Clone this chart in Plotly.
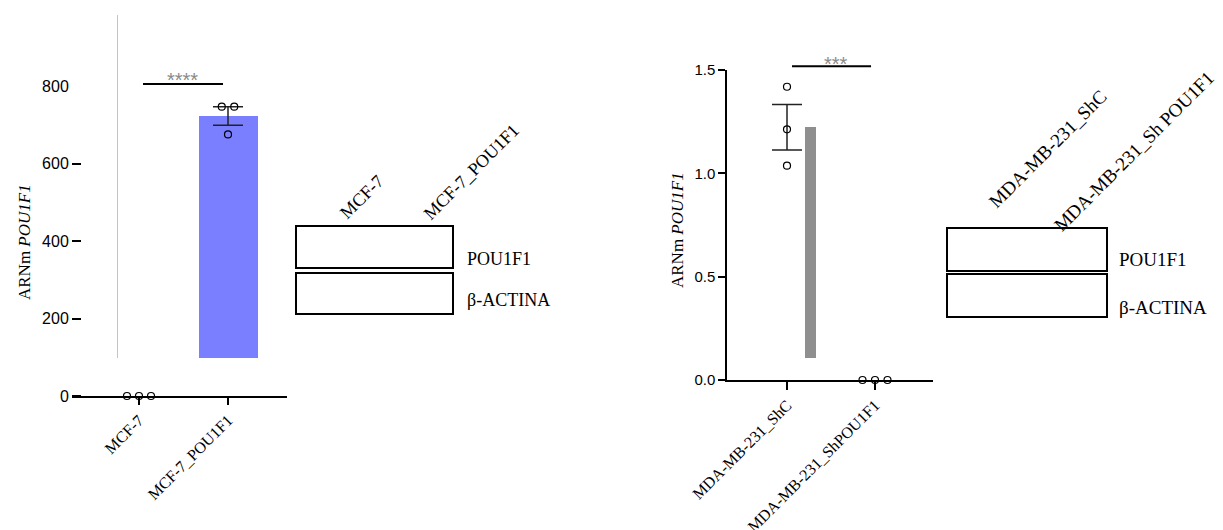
import numpy as np
import plotly.graph_objects as go

W, H = 1223, 530

# ---- MCF-7 panel (qPCR, ARNm POU1F1) ----
mcf_groups = ["MCF-7", "MCF-7_POU1F1"]
mcf_values = [[0.0, 0.0, 0.0], [746.6, 746.6, 675.0]]
mcf_bar_base = 98.0
mcf_yticks = [0, 200, 400, 600, 800]
mcf_signif = "****"

# ---- MDA-MB-231 panel ----
mda_groups = ["MDA-MB-231_ShC", "MDA-MB-231_ShPOU1F1"]
mda_values = [[1.419, 1.213, 1.037], [0.0, 0.0, 0.0]]
mda_bar_base = 0.105
mda_yticks = [0.0, 0.5, 1.0, 1.5]
mda_signif = "***"

# ---- western blot frames ----
blot_rows = ["POU1F1", "β-ACTINA"]
mcf_blot_lanes = ["MCF-7", "MCF-7_POU1F1"]
mda_blot_lanes = ["MDA-MB-231_ShC", "MDA-MB-231_Sh POU1F1"]

SANS = "Liberation Sans, Arial, sans-serif"
SERIF = "Liberation Serif, Times New Roman, serif"


def px(x):
    return x / W


def py(y):
    return 1 - y / H


def mean_sem(vals):
    a = np.asarray(vals, dtype=float)
    return a.mean(), a.std(ddof=1) / np.sqrt(len(a))


fig = go.Figure()

# ---------------- left panel ----------------
mcf_stats = [mean_sem(v) for v in mcf_values]
mcf_jitter = [[-0.135, 0.0, 0.135], [-0.07, 0.07, 0.0]]

for i, (m, s) in enumerate(mcf_stats):
    if m > mcf_bar_base:
        fig.add_trace(go.Bar(x=[i], y=[m - mcf_bar_base], base=[mcf_bar_base],
                             width=0.663, marker=dict(color="#7a7fff", line=dict(width=0)),
                             xaxis="x", yaxis="y", showlegend=False, hoverinfo="skip"))
for i, (m, s) in enumerate(mcf_stats):
    if s > 0:
        fig.add_trace(go.Scatter(x=[i], y=[m], mode="markers", marker=dict(size=1, opacity=0),
                                 error_y=dict(type="data", array=[s], width=15, thickness=1.5, color="#222"),
                                 xaxis="x", yaxis="y", showlegend=False, hoverinfo="skip"))
for i, vals in enumerate(mcf_values):
    fig.add_trace(go.Scatter(x=[i + d for d in mcf_jitter[i]], y=vals, mode="markers",
                             marker=dict(symbol="circle-open", size=7, color="black", line=dict(width=1.2)),
                             cliponaxis=False, xaxis="x", yaxis="y", showlegend=False, hoverinfo="skip"))
# carrier for the label-only 800 axis
fig.add_trace(go.Scatter(x=[0], y=[0], mode="markers", marker=dict(opacity=0),
                         xaxis="x", yaxis="y3", showlegend=False, hoverinfo="skip"))

# ---------------- right panel ----------------
mda_stats = [mean_sem(v) for v in mda_values]
mda_jitter = [[0.0, 0.0, 0.0], [-0.142, 0.0, 0.142]]
mda_bar_shift = 0.267

for i, (m, s) in enumerate(mda_stats):
    if m > mda_bar_base:
        fig.add_trace(go.Bar(x=[i + mda_bar_shift], y=[m - mda_bar_base], base=[mda_bar_base],
                             width=0.125, marker=dict(color="#8f8f8f", line=dict(width=0)),
                             xaxis="x2", yaxis="y2", showlegend=False, hoverinfo="skip"))
for i, (m, s) in enumerate(mda_stats):
    if s > 0:
        fig.add_trace(go.Scatter(x=[i], y=[m], mode="markers", marker=dict(size=1, opacity=0),
                                 error_y=dict(type="data", array=[s], width=15, thickness=1.5, color="#222"),
                                 xaxis="x2", yaxis="y2", showlegend=False, hoverinfo="skip"))
for i, vals in enumerate(mda_values):
    fig.add_trace(go.Scatter(x=[i + d for d in mda_jitter[i]], y=vals, mode="markers",
                             marker=dict(symbol="circle-open", size=7, color="black", line=dict(width=1.2)),
                             cliponaxis=False, xaxis="x2", yaxis="y2", showlegend=False, hoverinfo="skip"))

# ---------------- axes ----------------
mcf_ymax = (396 - 15) / 0.3875
mda_ymax = 1.5

tickfont_x = dict(family=SERIF, size=16, color="black")

fig.update_layout(
    width=W, height=H, margin=dict(l=0, r=0, t=0, b=0),
    template="none", paper_bgcolor="white", plot_bgcolor="rgba(0,0,0,0)",
    showlegend=False, bargap=0,
    xaxis=dict(domain=[px(72), px(287)], range=[(72 - 139) / 89, (287 - 139) / 89],
               anchor="y", showline=True, linecolor="black", linewidth=1.5, showgrid=False,
               zeroline=False, ticks="outside", ticklen=7, tickwidth=1.5, tickcolor="black",
               tickvals=[0, 1], ticktext=mcf_groups, tickangle=-45, tickfont=tickfont_x,
               automargin=False),
    yaxis=dict(domain=[py(396), py(15)], range=[0, mcf_ymax], anchor="free", position=px(81),
               showline=False, showgrid=False, zeroline=False, ticks="outside", ticklen=9,
               tickwidth=2, tickcolor="black", tickvals=mcf_yticks[:-1],
               tickfont=dict(family=SANS, size=16, color="black"), automargin=False),
    yaxis3=dict(overlaying="y", range=[0, mcf_ymax], anchor="free", position=px(81),
                showline=False, showgrid=False, zeroline=False, ticks="outside", ticklen=9,
                tickwidth=2, tickcolor="rgba(0,0,0,0)", tickvals=mcf_yticks[-1:],
                tickfont=dict(family=SANS, size=16, color="black"), automargin=False),
    xaxis2=dict(domain=[px(727), px(933)], range=[(727 - 787) / 88, (933 - 787) / 88],
                anchor="y2", showline=True, linecolor="black", linewidth=1.5, showgrid=False,
                zeroline=False, ticks="outside", ticklen=8, tickwidth=1.5, tickcolor="black",
                tickvals=[0, 1], ticktext=mda_groups, tickangle=-45, tickfont=tickfont_x,
                automargin=False),
    yaxis2=dict(domain=[py(380), py(70)], range=[0, mda_ymax], anchor="x2",
                showline=True, linecolor="black", linewidth=1.5, showgrid=False, zeroline=False,
                ticks="outside", ticklen=7, tickwidth=1.5, tickcolor="black",
                tickvals=mda_yticks, tickformat=".1f",
                tickfont=dict(family=SANS, size=15, color="black"), automargin=False),
)

shapes = []
annotations = []

# thin grey guide in the MCF-7 panel
shapes.append(dict(type="line", xref="x", yref="y", x0=(117.5 - 139) / 89, x1=(117.5 - 139) / 89,
                   y0=mcf_bar_base, y1=mcf_ymax, line=dict(color="#c4c4c4", width=1)))

# significance brackets
shapes.append(dict(type="line", xref="x", yref="y", x0=0.045, x1=0.944, y0=805, y1=805,
                   line=dict(color="black", width=2)))
annotations.append(dict(xref="x", yref="y", x=0.49, y=805, yanchor="middle", yshift=4,
                        text=mcf_signif, showarrow=False,
                        font=dict(family=SANS, size=20, color="#8a8a8a")))
sig_y = 1.518
shapes.append(dict(type="line", xref="x2", yref="y2 domain", x0=0.057, x1=0.955,
                   y0=sig_y / mda_ymax, y1=sig_y / mda_ymax, line=dict(color="black", width=2)))
annotations.append(dict(xref="x2", yref="y2 domain", x=0.56, y=sig_y / mda_ymax, yanchor="middle",
                        yshift=2, text=mda_signif, showarrow=False,
                        font=dict(family=SANS, size=20, color="#8a8a8a")))

# y titles
for xc, yc in [(24, 242), (677, 230)]:
    annotations.append(dict(xref="paper", yref="paper", x=px(xc), y=py(yc), textangle=-90,
                            text="ARNm <i>POU1F1</i>", showarrow=False,
                            xanchor="center", yanchor="middle",
                            font=dict(family=SERIF, size=17, color="black")))

# blot frames and labels
blots = [
    dict(x0=296, x1=453, rows=[(226, 268), (273, 314)], lbl_x=465, lbl_y=[259, 300],
         lbl_size=18, lanes=mcf_blot_lanes, lane_c=[(361.5, 196.5), (471, 171.5)], lane_size=18),
    dict(x0=947, x1=1107, rows=[(228, 271), (274, 317)], lbl_x=1117, lbl_y=[259, 307],
         lbl_size=19, lanes=mda_blot_lanes, lane_c=[(1047, 149), (1134, 152)], lane_size=19),
]
for b in blots:
    for (y0, y1) in b["rows"]:
        shapes.append(dict(type="rect", xref="paper", yref="paper", x0=px(b["x0"]), x1=px(b["x1"]),
                           y0=py(y1), y1=py(y0), line=dict(color="black", width=2),
                           fillcolor="rgba(0,0,0,0)"))
    for name, yc in zip(blot_rows, b["lbl_y"]):
        annotations.append(dict(xref="paper", yref="paper", x=px(b["lbl_x"]), y=py(yc),
                                xanchor="left", yanchor="middle", text=name, showarrow=False,
                                font=dict(family=SERIF, size=b["lbl_size"], color="black")))
    for name, (xc, yc) in zip(b["lanes"], b["lane_c"]):
        annotations.append(dict(xref="paper", yref="paper", x=px(xc), y=py(yc), textangle=-45,
                                xanchor="center", yanchor="middle", text=name, showarrow=False,
                                font=dict(family=SERIF, size=b["lane_size"], color="black")))

fig.update_layout(shapes=shapes, annotations=annotations)
fig.write_html("out.html")
